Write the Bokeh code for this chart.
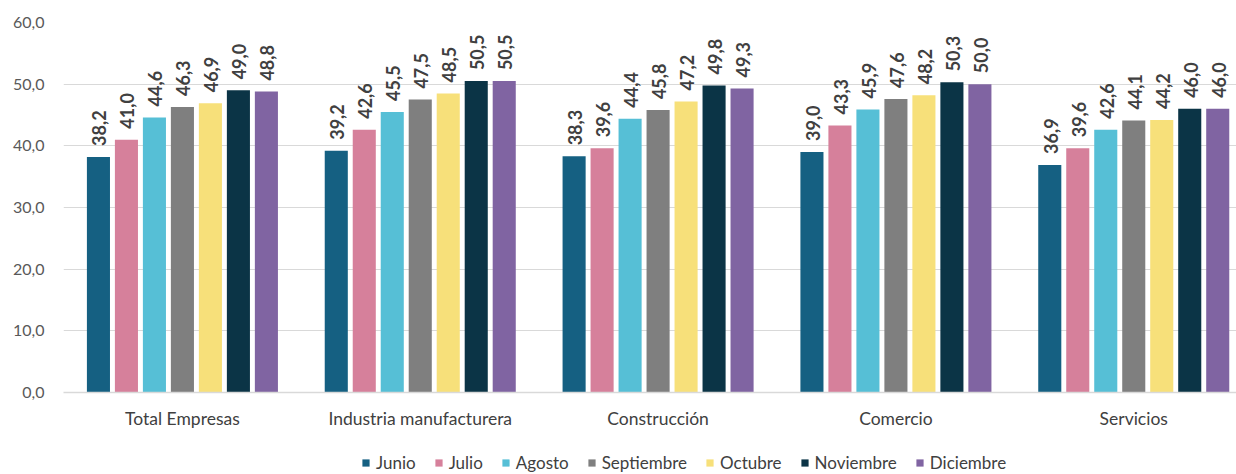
from bokeh.plotting import figure
from bokeh.models import Range1d, FixedTicker, Legend, LegendItem, ColumnDataSource
from bokeh.layouts import column
from bokeh.embed import file_html
from bokeh.resources import INLINE
from bokeh.core.properties import value
import math

categories = ["Total Empresas", "Industria manufacturera", "Construcción", "Comercio", "Servicios"]
months = ["Junio", "Julio", "Agosto", "Septiembre", "Octubre", "Noviembre", "Diciembre"]
junio = [38.2, 39.2, 38.3, 39.0, 36.9]
julio = [41.0, 42.6, 39.6, 43.3, 39.6]
agosto = [44.6, 45.5, 44.4, 45.9, 42.6]
septiembre = [46.3, 47.5, 45.8, 47.6, 44.1]
octubre = [46.9, 48.5, 47.2, 48.2, 44.2]
noviembre = [49.0, 50.5, 49.8, 50.3, 46.0]
diciembre = [48.8, 50.5, 49.3, 50.0, 46.0]
series = [junio, julio, agosto, septiembre, octubre, noviembre, diciembre]
colors = ["#156082", "#D6809B", "#56BFD6", "#7F7F7F", "#F7E07A", "#0B3446", "#8064A2"]
y_ticks = [0, 10, 20, 30, 40, 50, 60]

FONT = "Lato"
step = 0.1177
bw = 0.097

p = figure(width=1236, height=446, output_backend="svg", toolbar_location=None,
           x_range=Range1d(-0.5, 4.432), y_range=Range1d(0, 60),
           min_border_left=63, min_border_right=0, min_border_top=22, min_border_bottom=54)
p.outline_line_color = None
p.background_fill_color = "white"
p.border_fill_color = "white"

# legend strip below the chart (its frame is aligned with the main frame by the column)
lg = figure(width=1236, height=28, output_backend="svg", toolbar_location=None,
            x_range=Range1d(0, 1), y_range=Range1d(0, 1),
            x_axis_location=None, y_axis_location=None,
            min_border_left=63, min_border_right=0, min_border_top=0, min_border_bottom=0)
lg.outline_line_color = None
lg.xgrid.grid_line_color = None
lg.ygrid.grid_line_color = None
lg.border_fill_color = "white"
lg.background_fill_color = "white"

items = []
for i, (name, vals, col) in enumerate(zip(months, series, colors)):
    xs = [g + (i - 3) * step for g in range(len(categories))]
    labels = [f"{v:.1f}".replace(".", ",") for v in vals]
    src = ColumnDataSource(dict(x=xs, top=vals, lab=labels))
    p.vbar(x="x", top="top", width=bw, bottom=0, source=src, fill_color=col, line_color=None)
    p.text(x="x", y="top", text="lab", source=src, angle=math.pi / 2, text_align="left",
           text_baseline="middle", y_offset=-11, x_offset=1, text_font=value(FONT),
           text_font_style="bold", text_font_size="18px", text_color="#404040")
    # zero-height proxy so the legend swatch has a colour to draw
    r = lg.vbar(x=[0.5], top=[0], bottom=[0], width=0.01, fill_color=col, line_color=None)
    items.append(LegendItem(label=name, renderers=[r]))

# axes
p.yaxis.ticker = FixedTicker(ticks=y_ticks)
p.yaxis.major_label_overrides = {t: f"{t:.1f}".replace(".", ",") for t in y_ticks}
p.yaxis.axis_line_color = None
p.yaxis.major_tick_line_color = None
p.yaxis.minor_tick_line_color = None
p.yaxis.major_tick_out = 0
p.yaxis.major_label_standoff = 19
p.yaxis.major_label_text_font = FONT
p.yaxis.major_label_text_font_size = "16px"
p.yaxis.major_label_text_color = "#595959"

p.xaxis.ticker = FixedTicker(ticks=list(range(len(categories))))
p.xaxis.major_label_overrides = {i: c for i, c in enumerate(categories)}
p.xaxis.axis_line_color = "#D9D9D9"
p.xaxis.axis_line_width = 1.5
p.xaxis.major_tick_line_color = None
p.xaxis.minor_tick_line_color = None
p.xaxis.major_tick_out = 0
p.xaxis.major_label_standoff = 15
p.xaxis.major_label_text_font = FONT
p.xaxis.major_label_text_font_size = "17.5px"
p.xaxis.major_label_text_color = "#404040"

p.xgrid.grid_line_color = None
p.ygrid.grid_line_color = "#D9D9D9"
p.ygrid.grid_line_width = 1.1

legend = Legend(items=items, orientation="horizontal", location=(298, 1),
                glyph_width=9, glyph_height=9, label_standoff=6, spacing=18,
                padding=0, margin=0, border_line_color=None, background_fill_alpha=0,
                label_text_font=FONT, label_text_font_size="17px", label_text_color="#404040",
                label_height=16)
lg.add_layout(legend, "center")

layout = column(p, lg, spacing=0)
open("out.html", "w").write(file_html(layout, INLINE))
